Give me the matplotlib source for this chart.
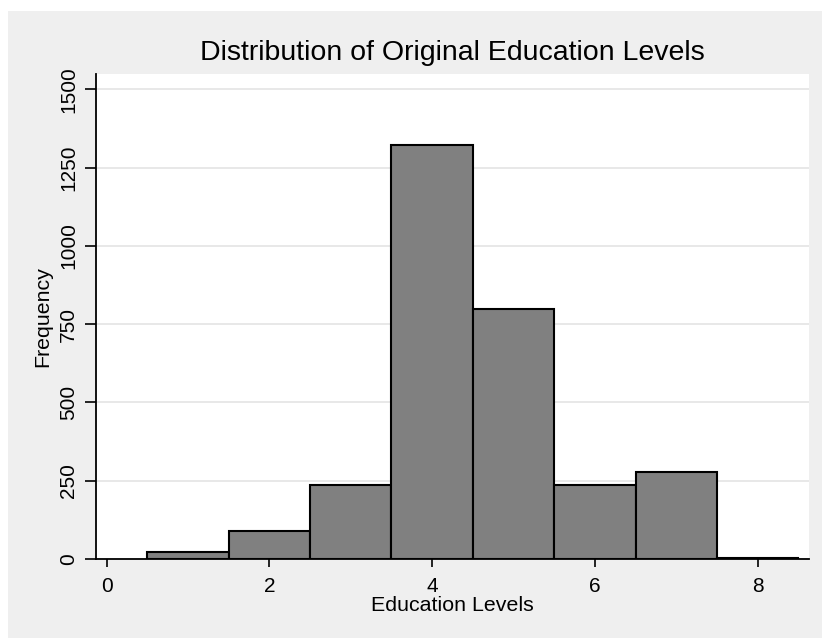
import matplotlib.pyplot as plt
from matplotlib.patches import Rectangle

plt.rcParams['font.family'] = ['Liberation Sans', 'DejaVu Sans']

# education level categories and their frequencies
levels = [1, 2, 3, 4, 5, 6, 7, 8]
counts = [22, 90, 237, 1323, 800, 236, 278, 4]
yticks = [0, 250, 500, 750, 1000, 1250, 1500]
xticks = [0, 2, 4, 6, 8]

fig = plt.figure(figsize=(8.22, 6.38), dpi=100)
fig.patch.set_facecolor('white')
# grey backdrop, white strip on the top and left edge like the original
fig.patches.append(Rectangle((8 / 822, 0), 1, 1 - 11 / 638, transform=fig.transFigure,
                             facecolor='#efefef', edgecolor='none', zorder=-10))

ax = fig.add_axes([96 / 822, 1 - 559 / 638, (809 - 96) / 822, (559 - 74) / 638])
ax.set_facecolor('white')
ax.bar(levels, counts, width=1, color='#808080', edgecolor='black', linewidth=1.5, zorder=3)

ax.set_xlim(-0.13, 8.63)
ax.set_ylim(0, 1549)
ax.set_xticks(xticks)
ax.set_yticks(yticks)
ax.set_yticklabels([str(v) for v in yticks], rotation=90, va='center')
ax.grid(axis='y', color='#e4e4e4', linewidth=1.2, zorder=0)
ax.set_axisbelow(True)

for s in ['top', 'right']:
    ax.spines[s].set_visible(False)
for s in ['left', 'bottom']:
    ax.spines[s].set_linewidth(1.3)
    ax.spines[s].set_color('black')

ax.tick_params(axis='y', length=8, width=1.2, labelsize=15, pad=5)
ax.tick_params(axis='x', length=6, width=1.2, labelsize=15, pad=7)

ax.set_xlabel('Education Levels', fontsize=15.4)
ax.xaxis.set_label_coords(0.5, -0.095)
ax.xaxis.label.set_va('center')
ax.set_ylabel('Frequency', fontsize=15.4)
ax.yaxis.set_label_coords(-0.074, 0.5)
ax.yaxis.label.set_va('center')
ax.set_title('Distribution of Original Education Levels', fontsize=20.5, y=1.043, va='center', pad=0)

plt.savefig('out.png', dpi=100)
